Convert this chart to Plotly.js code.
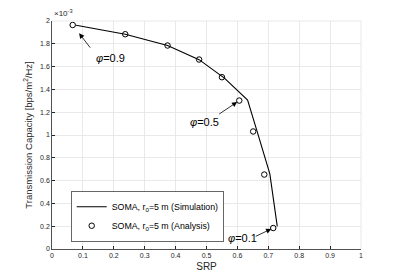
<!DOCTYPE html>
<html>
<head>
<meta charset="utf-8">
<script src="https://cdn.plot.ly/plotly-3.0.1.min.js"></script>
<style>html,body{margin:0;padding:0;background:#fff;}#chart{width:399px;height:280px;}</style>
</head>
<body>
<div id="chart"></div>
<script>
// SRP (x) and transmission capacity (y, in units of 1e-3 bps/m^2/Hz)
const simSRP = [0.078, 0.237, 0.374, 0.476, 0.558, 0.633, 0.664, 0.705, 0.729];
const simCap = [1.962, 1.884, 1.785, 1.661, 1.499, 1.306, 1.030, 0.659, 0.198];
const anaSRP = [0.067, 0.237, 0.374, 0.476, 0.550, 0.606, 0.651, 0.687, 0.716];
const anaCap = [1.965, 1.884, 1.785, 1.662, 1.507, 1.302, 1.031, 0.653, 0.184];
const phiLabels = ["<i>φ</i>=0.9", "<i>φ</i>=0.5", "<i>φ</i>=0.1"];
const phiIndex = [0, 5, 8];
const xTicks = [0, 0.1, 0.2, 0.3, 0.4, 0.5, 0.6, 0.7, 0.8, 0.9, 1];
const yTicks = [0, 0.2, 0.4, 0.6, 0.8, 1, 1.2, 1.4, 1.6, 1.8, 2];
const yTickText = ["0", "0.2", "0.4", "0.6", "0.8", "1", "1.2", "1.4", "1.6", "1.8", "2"];

const FONT = "Liberation Sans, Arial, Helvetica, sans-serif";
const traces = [
  {x: simSRP, y: simCap, mode: "lines", name: "SOMA, r<sub>0</sub>=5 m (Simulation)",
   line: {color: "#000000", width: 1.1}},
  {x: anaSRP, y: anaCap, mode: "markers", name: "SOMA, r<sub>0</sub>=5 m (Analysis)",
   marker: {symbol: "circle-open", size: 5.5, color: "#000000", line: {width: 1}}}
];

// arrow tail offsets (px from point), arrow standoff, label left-edge / centre-line offsets
const arrowStyle = [
  {ax: 19, ay: 24.6, standoff: 10.5, dx: 21.3, dy: -33.3},
  {ax: -21.6, ay: 14.5, standoff: 2.5, dx: -51, dy: -21.2},
  {ax: -19, ay: 9, standoff: 2.2, dx: -47.3, dy: -10}
];
const annotations = [];
phiIndex.forEach((idx, i) => {
  const s = arrowStyle[i];
  annotations.push({x: anaSRP[idx], y: anaCap[idx], xref: "x", yref: "y", text: " ",
    showarrow: true, arrowhead: 2, arrowsize: 1.3, arrowwidth: 0.8, arrowcolor: "#000",
    ax: s.ax, ay: s.ay, standoff: s.standoff, font: {size: 1}});
  annotations.push({x: anaSRP[idx], y: anaCap[idx], xref: "x", yref: "y", text: phiLabels[i],
    xanchor: "left", showarrow: false, xshift: s.dx, yshift: s.dy,
    font: {family: FONT, size: 11, color: "#000"}});
});
annotations.push({x: 0, y: 1, xref: "paper", yref: "paper", xanchor: "left", yanchor: "bottom",
  text: "×10<sup>-3</sup>", showarrow: false, xshift: 0, yshift: 1,
  font: {family: FONT, size: 8, color: "#262626"}});

const layout = {
  width: 399, height: 280,
  margin: {l: 52, r: 38, t: 21, b: 31, pad: 0},
  paper_bgcolor: "#ffffff", plot_bgcolor: "#ffffff",
  font: {family: FONT, size: 7, color: "#262626"},
  showlegend: true,
  legend: {x: 0.0615, y: 0.252, xanchor: "left", yanchor: "top",
    bgcolor: "#ffffff", bordercolor: "#262626", borderwidth: 0.7,
    font: {family: FONT, size: 8.8, color: "#000"}, itemwidth: 30, tracegroupgap: 0},
  xaxis: {range: [0, 1], tickvals: xTicks, ticktext: xTicks.map(String),
    showgrid: true, gridcolor: "#e3e3e3", gridwidth: 0.8, zeroline: false,
    showline: true, linecolor: "#262626", linewidth: 0.8, mirror: false,
    ticks: "inside", ticklen: 3, tickcolor: "#262626", tickfont: {size: 7, color: "#262626"},
    title: {text: "SRP", font: {family: FONT, size: 10, color: "#262626"}, standoff: 4}},
  yaxis: {range: [0, 2], tickvals: yTicks, ticktext: yTickText,
    showgrid: true, gridcolor: "#e3e3e3", gridwidth: 0.8, zeroline: false,
    showline: true, linecolor: "#262626", linewidth: 0.8, mirror: false,
    ticks: "inside", ticklen: 3, tickcolor: "#262626", tickfont: {size: 7, color: "#262626"},
    title: {text: "Transmission Capacity [bps/m<sup>2</sup>/Hz]", font: {family: FONT, size: 9.5, color: "#262626"}, standoff: 5}},
  shapes: [
    {type: "line", xref: "paper", yref: "paper", x0: 0, x1: 1, y0: 1, y1: 1, line: {color: "#e3e3e3", width: 0.8}},
    {type: "line", xref: "paper", yref: "paper", x0: 1, x1: 1, y0: 0, y1: 1, line: {color: "#e3e3e3", width: 0.8}}
  ],
  annotations: annotations
};

Plotly.newPlot("chart", traces, layout, {displayModeBar: false, staticPlot: true});
</script>
</body>
</html>
